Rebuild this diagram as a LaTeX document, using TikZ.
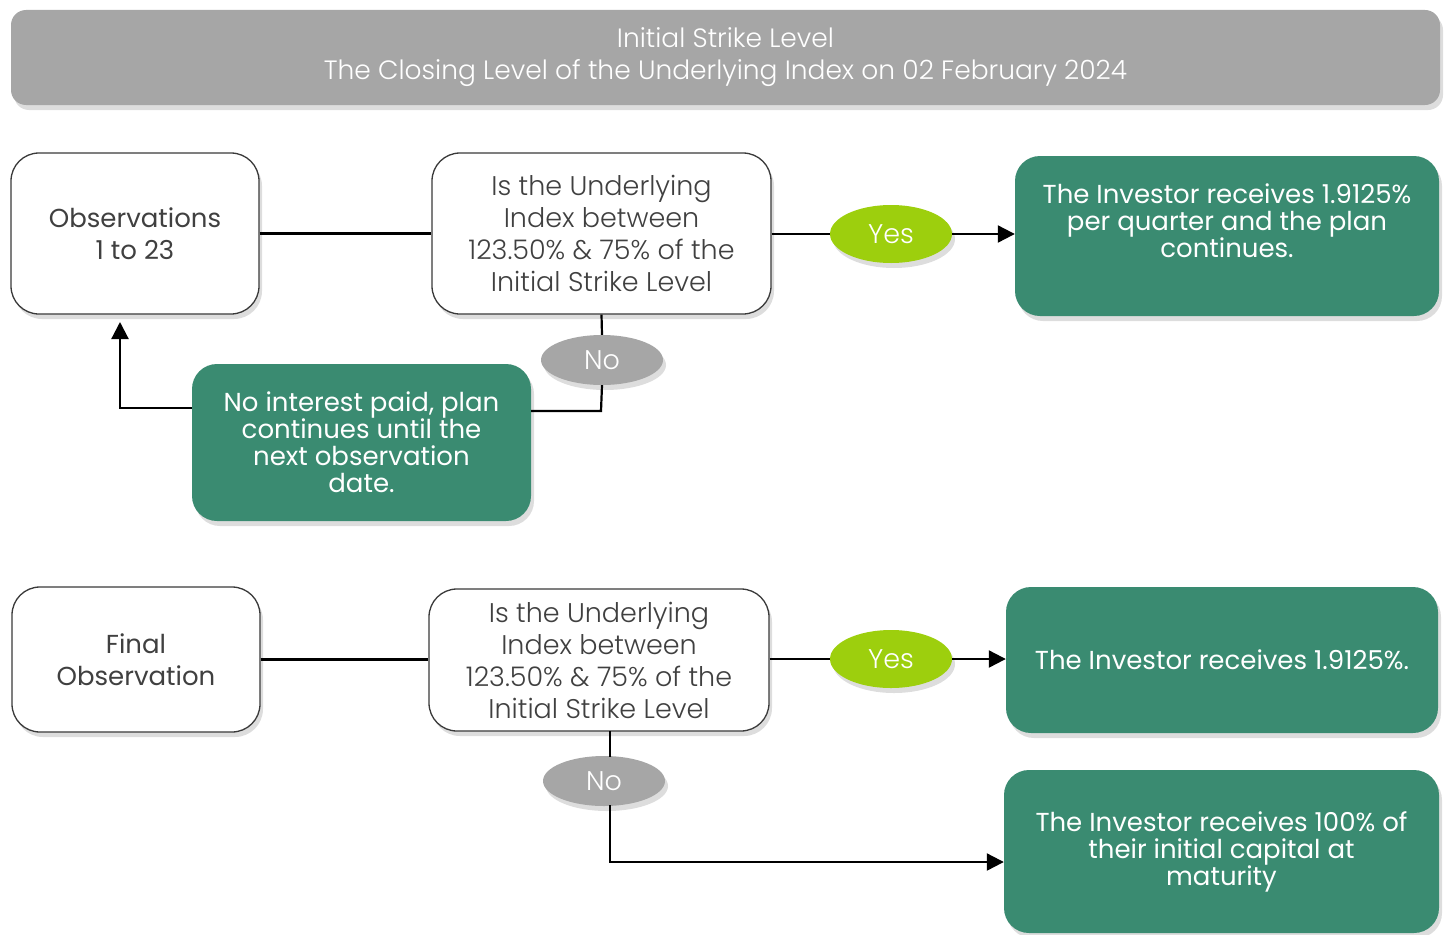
\documentclass[tikz,border=0pt]{standalone}
\usepackage{fontspec}
\setmainfont{Poppins}
\newfontfamily\lightfont{Poppins Light}
\usetikzlibrary{shadows,arrows.meta,shapes.geometric}
\definecolor{hdrgray}{HTML}{A6A6A6}
\definecolor{boxgreen}{HTML}{3A8B71}
\definecolor{limegreen}{HTML}{9DCF0D}
\definecolor{txtgray}{HTML}{404040}
\definecolor{bordergray}{HTML}{3A3A3A}
\tikzset{
  shd/.style={drop shadow={shadow xshift=3pt,shadow yshift=-5pt,opacity=0.22,fill=black!60}},
  header/.style={shd,fill=hdrgray,rounded corners=15pt,minimum width=1429pt,minimum height=95pt,
    text=white,align=center,font=\lightfont\fontsize{26.5}{32}\selectfont},
  whitebox/.style={shd,fill=white,draw=bordergray,line width=1.3pt,rounded corners=28pt,
    align=center,text=txtgray,font=\fontsize{26}{32}\selectfont},
  qbox/.style={whitebox,font=\lightfont\fontsize{27}{32}\selectfont},
  greenbox/.style={shd,fill=boxgreen,rounded corners=25pt,text=white,align=center,
    font=\fontsize{26}{27}\selectfont},
  yesell/.style={shd,ellipse,fill=limegreen,minimum width=122pt,minimum height=58pt,inner sep=0pt,
    text=white,font=\lightfont\fontsize{27}{30}\selectfont},
  noell/.style={shd,ellipse,fill=hdrgray,minimum width=122pt,minimum height=50pt,inner sep=0pt,
    text=white,font=\lightfont\fontsize{27}{30}\selectfont},
  conn/.style={line width=2.2pt,black},
  arr/.style={conn,-{Triangle[length=17pt,width=17pt]}},
}
\begin{document}
\begin{tikzpicture}[x=1pt,y=-1pt]
\useasboundingbox (0,0) rectangle (1447,934);
% header
\node[header] (hdr) at (725.5,57.5) {Initial Strike Level\\The Closing Level of the Underlying Index on 02 February 2024};
% top row
\node[whitebox,minimum width=248pt,minimum height=161pt] (obs1) at (135,233.5) {Observations\\1 to 23};
\node[qbox,minimum width=339pt,minimum height=161pt] (q1) at (601.5,233.5) {Is the Underlying\\Index between\\123.50\% \& 75\% of the\\Initial Strike Level};
\node[yesell] (yes1) at (891,234) {Yes};
\node[greenbox,minimum width=424pt,minimum height=160pt] (r1) at (1227,236) {The Investor receives 1.9125\%\\per quarter and the plan\\continues.\\[3pt]\mbox{}};
\node[noell] (no1) at (602,360) {No};
\node[greenbox,minimum width=339pt,minimum height=157pt] (n1) at (361.5,442.5) {No interest paid, plan\\continues until the\\next observation\\date.};
% bottom row
\node[whitebox,minimum width=248pt,minimum height=145pt] (obs2) at (136,659.5) {Final\\Observation};
\node[qbox,minimum width=340pt,minimum height=142pt] (q2) at (599,660) {Is the Underlying\\Index between\\123.50\% \& 75\% of the\\Initial Strike Level};
\node[yesell] (yes2) at (891,659) {Yes};
\node[greenbox,minimum width=432pt,minimum height=146pt] (r2) at (1222,660) {The Investor receives 1.9125\%.};
\node[noell] (no2) at (604,781) {No};
\node[greenbox,minimum width=435pt,minimum height=163pt] (r3) at (1221.5,851.5) {The Investor receives 100\% of\\their initial capital at\\maturity};
% connectors top
\draw[conn] (obs1.east) -- (q1.west);
\draw[conn] (q1.east |- yes1) -- (yes1.west);
\draw[arr] (yes1.east) -- (yes1.east -| r1.west);
\draw[conn] (q1.south) -- (no1.north);
\coordinate (c1) at (601,411);
\draw[conn] (no1.south) -- (c1) -- (n1.east |- c1);
\coordinate (c2) at (120,408);
\draw[arr] (n1.west |- c2) -- (c2) -- (120,322);
% connectors bottom
\draw[conn] (obs2.east) -- (obs2.east -| q2.west);
\draw[conn] (q2.east |- yes2) -- (yes2.west);
\draw[arr] (yes2.east) -- (yes2.east -| r2.west);
\coordinate (d0) at (610,731);
\coordinate (d1) at (610,757);
\coordinate (d2) at (610,805);
\coordinate (d3) at (610,862);
\draw[conn] (d0) -- (d1);
\draw[arr] (d2) -- (d3) -- (r3.west |- d3);
\end{tikzpicture}
\end{document}
